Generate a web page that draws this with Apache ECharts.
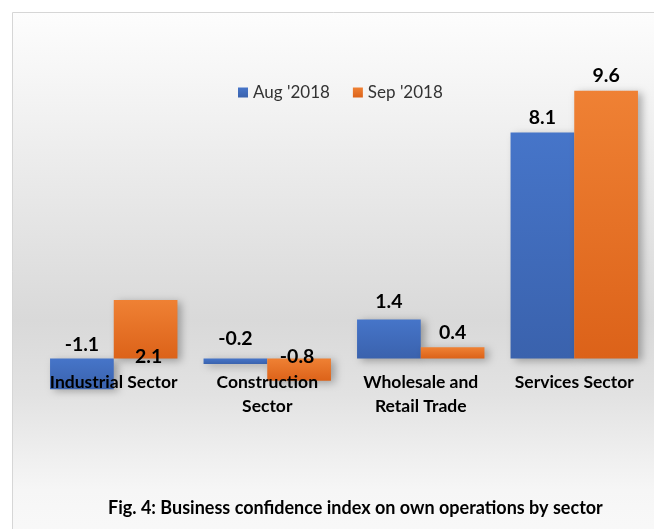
<!DOCTYPE html>
<html>
<head>
<meta charset="utf-8">
<style>
  html, body { margin: 0; padding: 0; background: #fff; }
  #chart { width: 654px; height: 529px; }
</style>
<script src="https://cdn.jsdelivr.net/npm/echarts@6/dist/echarts.min.js"></script>
</head>
<body>
<div id="chart"></div>
<script>
var categories = ['Industrial Sector', 'Construction\nSector', 'Wholesale and\nRetail Trade', 'Services Sector'];
var seriesNames = ["Aug '2018", "Sep '2018"];
var aug = [-1.1, -0.2, 1.4, 8.1];
var sep = [2.1, -0.8, 0.4, 9.6];

var font = 'Lato, "Open Sans", sans-serif';

// label tweaks so the value labels sit where the original has them
var augLabels = [
  { position: 'top', distance: 4 },
  { position: 'top', distance: 4, offset: [0, -6] },
  { position: 'top', distance: 4, offset: [0, -4] },
  {}
];
var sepLabels = [
  { position: 'insideBottom', distance: 4, offset: [3, 12] },
  { position: 'top', distance: 4, offset: [-2, 12] },
  {},
  {}
];

function grad(top, bottom) {
  return new echarts.graphic.LinearGradient(0, 0, 0, 1, [
    { offset: 0, color: top },
    { offset: 1, color: bottom }
  ]);
}

function buildData(values, labels) {
  return values.map(function (v, i) {
    var item = { value: v };
    if (labels[i] && labels[i].position) item.label = labels[i];
    return item;
  });
}

var barLabel = {
  show: true,
  position: 'top',
  distance: 5,
  color: '#000',
  fontFamily: font,
  fontWeight: 'bold',
  fontSize: 19.5
};

var chart = echarts.init(document.getElementById('chart'));
chart.setOption({
  animation: false,
  graphic: [{
    type: 'rect',
    z: -10,
    silent: true,
    shape: { x: 12.5, y: 12.5, width: 660, height: 530 },
    style: {
      stroke: '#d6d6d6',
      lineWidth: 1,
      fill: new echarts.graphic.LinearGradient(0, 0, 0, 1, [
        { offset: 0, color: '#fdfdfd' },
        { offset: 0.12, color: '#f6f6f6' },
        { offset: 0.58, color: '#d9d9d9' },
        { offset: 0.72, color: '#e2e2e2' },
        { offset: 0.9, color: '#f6f6f6' },
        { offset: 1, color: '#f9f9f9' }
      ])
    }
  }],
  title: {
    text: 'Fig. 4: Business confidence index on own operations by sector',
    left: 103,
    top: 494,
    textStyle: { fontFamily: font, fontWeight: 'bold', fontSize: 18, color: '#000' }
  },
  legend: {
    data: seriesNames,
    left: 233,
    top: 79,
    icon: 'rect',
    itemWidth: 10,
    itemHeight: 10,
    itemGap: 23,
    textStyle: { fontFamily: font, fontSize: 17, color: '#333' }
  },
  grid: { left: 37, right: 3, top: 79.5, bottom: 114.7 },
  xAxis: {
    type: 'category',
    data: categories,
    z: 10,
    offset: -55.8,
    axisLine: { show: false, onZero: false },
    axisTick: { show: false },
    axisLabel: {
      margin: 12,
      interval: 0,
      color: '#000',
      fontFamily: font,
      fontWeight: 'bold',
      fontSize: 17.5,
      lineHeight: 24
    }
  },
  yAxis: {
    type: 'value',
    min: -2,
    max: 10,
    axisLine: { show: false },
    axisTick: { show: false },
    axisLabel: { show: false },
    splitLine: { show: false }
  },
  series: [{
    name: seriesNames[0],
    type: 'bar',
    barGap: 0,
    barCategoryGap: '17%',
    data: buildData(aug, augLabels),
    label: barLabel,
    itemStyle: {
      color: grad('#4675c9', '#3a62ad'),
      shadowBlur: 8,
      shadowOffsetX: 4,
      shadowOffsetY: 2,
      shadowColor: 'rgba(0,0,0,0.3)'
    }
  }, {
    name: seriesNames[1],
    type: 'bar',
    barGap: 0,
    barCategoryGap: '17%',
    data: buildData(sep, sepLabels),
    label: barLabel,
    itemStyle: {
      color: grad('#ef8134', '#dc6219'),
      shadowBlur: 8,
      shadowOffsetX: 4,
      shadowOffsetY: 2,
      shadowColor: 'rgba(0,0,0,0.3)'
    }
  }],
  color: ['#4472c4', '#ed7d31']
});
</script>
</body>
</html>
